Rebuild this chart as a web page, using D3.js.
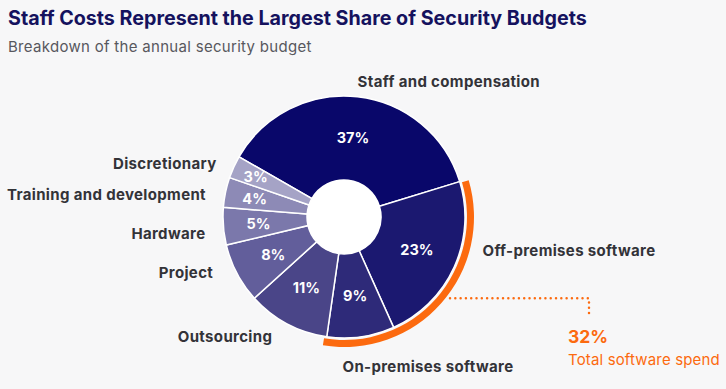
<!DOCTYPE html>
<html>
<head>
<meta charset="utf-8">
<script src="https://cdn.jsdelivr.net/npm/d3@7"></script>
<style>
  body { margin: 0; background: #f7f7f8; }
  svg { display: block; font-family: Inter, "DejaVu Sans", sans-serif; }
</style>
</head>
<body>
<div id="chart"></div>
<script>
// data, clockwise from the staff slice
var categories = ["Staff and compensation", "Off-premises software", "On-premises software",
    "Outsourcing", "Project", "Hardware", "Training and development", "Discretionary"];
var shares = [37, 23, 9, 11, 8, 5, 4, 3];
var colors = ["#09076a", "#1b1870", "#2e2a79", "#4a4588", "#625e9b", "#7b78ab", "#8d8ab6", "#a5a3c6"];
var softwareCats = ["Off-premises software", "On-premises software"];
var softwareTotal = 32;

var width = 726, height = 389;
var cx = 344, cy = 217;
var rInner = 37, rOuter = 121;

// label nudges (dx, dy) from the point at r=140 on each slice's mid angle
var labelNudge = [[-2, 4], [11, -24], [-21, 11], [-6, -4], [-7, -10], [1, 6], [-1, 6], [0, 4]];

var svg = d3.select("#chart").append("svg")
    .attr("width", width)
    .attr("height", height);

svg.append("rect").attr("width", width).attr("height", height).attr("fill", "#f7f7f8");

svg.append("text")
    .attr("x", 8).attr("y", 25)
    .attr("font-size", 19.7).attr("font-weight", 700)
    .attr("fill", "#15125e")
    .text("Staff Costs Represent the Largest Share of Security Budgets");

svg.append("text")
    .attr("x", 8).attr("y", 52)
    .attr("font-size", 15)
    .attr("fill", "#58585e")
    .attr("letter-spacing", 0.3)
    .text("Breakdown of the annual security budget");

var data = categories.map(function(c, i) { return {cat: c, value: shares[i], color: colors[i]}; });

var startA = -60.2 * Math.PI / 180;
var pie = d3.pie().value(function(d) { return d.value; }).sort(null)
    .startAngle(startA).endAngle(startA + 2 * Math.PI);
var arcs = pie(data);

var arc = d3.arc().innerRadius(rInner).outerRadius(rOuter);

var g = svg.append("g").attr("transform", "translate(" + cx + "," + cy + ")");

g.selectAll("path.slice").data(arcs).enter().append("path")
    .attr("class", "slice")
    .attr("d", arc)
    .attr("fill", function(d) { return d.data.color; })
    .attr("stroke", "#fff")
    .attr("stroke-width", 1.5);

g.append("circle").attr("r", rInner).attr("fill", "#fff");

// percentage labels, pushed outward for thin slices
var labelR = d3.scaleLinear().domain([3, 6]).range([97, 80]).clamp(true);
g.selectAll("text.pct").data(arcs).enter().append("text")
    .attr("class", "pct")
    .attr("transform", function(d) {
        var a = (d.startAngle + d.endAngle) / 2, r = labelR(d.data.value);
        return "translate(" + (r * Math.sin(a)) + "," + (-r * Math.cos(a)) + ")";
    })
    .attr("text-anchor", "middle")
    .attr("dy", "0.36em")
    .attr("font-size", 14.5).attr("font-weight", 700)
    .attr("fill", "#fff")
    .text(function(d) { return d.data.value + "%"; });

// category labels
g.selectAll("text.cat").data(arcs).enter().append("text")
    .attr("class", "cat")
    .attr("x", function(d, i) { var a = (d.startAngle + d.endAngle) / 2; return 140 * Math.sin(a) + labelNudge[i][0]; })
    .attr("y", function(d, i) { var a = (d.startAngle + d.endAngle) / 2; return -140 * Math.cos(a) + labelNudge[i][1]; })
    .attr("dy", "0.36em")
    .attr("text-anchor", function(d) {
        var a = (d.startAngle + d.endAngle) / 2;
        return (a > Math.PI && a < 2 * Math.PI) || a < 0 ? "end" : "start";
    })
    .attr("font-size", 15).attr("font-weight", 700)
    .attr("letter-spacing", 0.35)
    .attr("fill", "#333338")
    .text(function(d) { return d.data.cat; });

// software bracket arc
var soft = arcs.filter(function(d) { return softwareCats.indexOf(d.data.cat) >= 0; });
var sA = d3.min(soft, function(d) { return d.startAngle; }) + 0.01;
var eA = d3.max(soft, function(d) { return d.endAngle; }) + 0.02;
g.append("path")
    .attr("d", d3.arc().innerRadius(123).outerRadius(130).startAngle(sA).endAngle(eA)())
    .attr("fill", "#fc6a0f");

// dotted leader
var la = 128 * Math.PI / 180;
var lx = 132 * Math.sin(la), ly = -132 * Math.cos(la);
g.append("path")
    .attr("d", "M" + (lx + 2) + "," + ly + "H" + (589 - cx) + "V" + (318 - cy))
    .attr("fill", "none")
    .attr("stroke", "#fc6a0f")
    .attr("stroke-width", 2.5)
    .attr("stroke-linecap", "round")
    .attr("stroke-dasharray", "0 5.3");

svg.append("text")
    .attr("x", 568).attr("y", 343)
    .attr("font-size", 17.5).attr("font-weight", 700)
    .attr("fill", "#fc6a0f")
    .text(softwareTotal + "%");

svg.append("text")
    .attr("x", 568).attr("y", 365)
    .attr("font-size", 15)
    .attr("fill", "#fc6a0f")
    .attr("letter-spacing", 0.15)
    .text("Total software spend");
</script>
</body>
</html>
